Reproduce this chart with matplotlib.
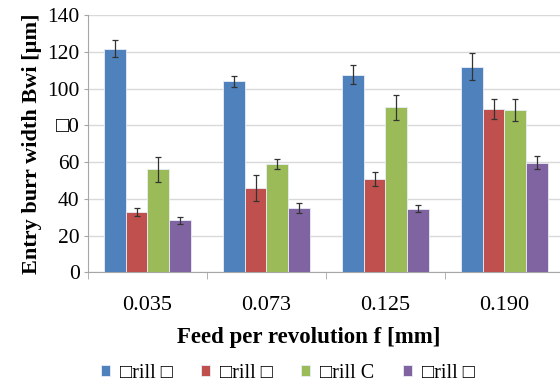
import matplotlib
matplotlib.use("Agg")
import matplotlib.pyplot as plt
import numpy as np

feeds = ["0.035", "0.073", "0.125", "0.190"]
series = ["\u25a1rill \u25a1", "\u25a1rill \u25a1", "\u25a1rill C", "\u25a1rill \u25a1"]
values = [
    [121.8, 104.0, 107.6, 112.0],
    [32.9, 45.8, 50.7, 88.9],
    [56.2, 59.1, 89.8, 88.4],
    [28.2, 34.9, 34.7, 59.8],
]
errors = [
    [4.6, 3.1, 5.1, 7.3],
    [2.0, 7.2, 3.9, 5.5],
    [6.8, 2.8, 6.7, 6.0],
    [1.9, 2.7, 1.9, 3.5],
]
yticks = [0, 20, 40, 60, 80, 100, 120, 140]
ytick_labels = ["0", "20", "40", "60", "\u25a10", "100", "120", "140"]

COLORS = ["#4f81bd", "#c0504d", "#9bbb59", "#8064a2"]
GRID = "#d9d9d9"
AXIS = "#a6a6a6"
FONT = ["Liberation Serif", "DejaVu Sans"]

plt.rcParams["font.family"] = FONT

fig = plt.figure(figsize=(5.6, 3.85), dpi=100)
ax = fig.add_axes([0.157, 0.293, 0.85, 0.667])

x = np.arange(len(feeds))
w = 0.1825
for j, (name, vals, errs, c) in enumerate(zip(series, values, errors, COLORS)):
    ax.bar(x + (j - 1.5) * w, vals, width=w, color=c, edgecolor="#e8eef7",
           linewidth=0.6, label=name, zorder=3,
           yerr=errs, error_kw=dict(ecolor="#333333", elinewidth=0.9,
                                    capsize=2, capthick=0.9, zorder=4))

ax.set_xlim(-0.5, len(feeds) - 0.5)
ax.set_ylim(0, 140)
ax.set_yticks(yticks)
ax.set_yticklabels(ytick_labels, fontsize=15.5)
ax.set_xticks(x)
ax.set_xticklabels(feeds, fontsize=16)
ax.set_xticks(np.arange(len(feeds) + 1) - 0.5, minor=True)
ax.tick_params(axis="x", which="major", length=0, pad=17)
ax.tick_params(axis="x", which="minor", length=5, color=AXIS)
ax.tick_params(axis="y", length=3, color=AXIS, pad=3)

ax.grid(axis="y", color=GRID, linewidth=1, zorder=0)
for s in ("top", "right"):
    ax.spines[s].set_visible(False)
for s in ("left", "bottom"):
    ax.spines[s].set_color(AXIS)

ax.set_xlabel("Feed per revolution f [mm]", fontsize=16.5, fontweight="bold")
ax.xaxis.set_label_coords(0.464, -0.253)
ax.xaxis.label.set_va("center")
ax.set_ylabel("Entry burr width Bwi [\u00b5m]", fontsize=16, fontweight="bold", labelpad=4)

ax.legend(loc="center", bbox_to_anchor=(0.42, -0.393), ncol=4, frameon=False,
          fontsize=14.5, handlelength=0.45, handleheight=0.45, handletextpad=0.5,
          columnspacing=1.4)

fig.savefig("out.png", dpi=100)
